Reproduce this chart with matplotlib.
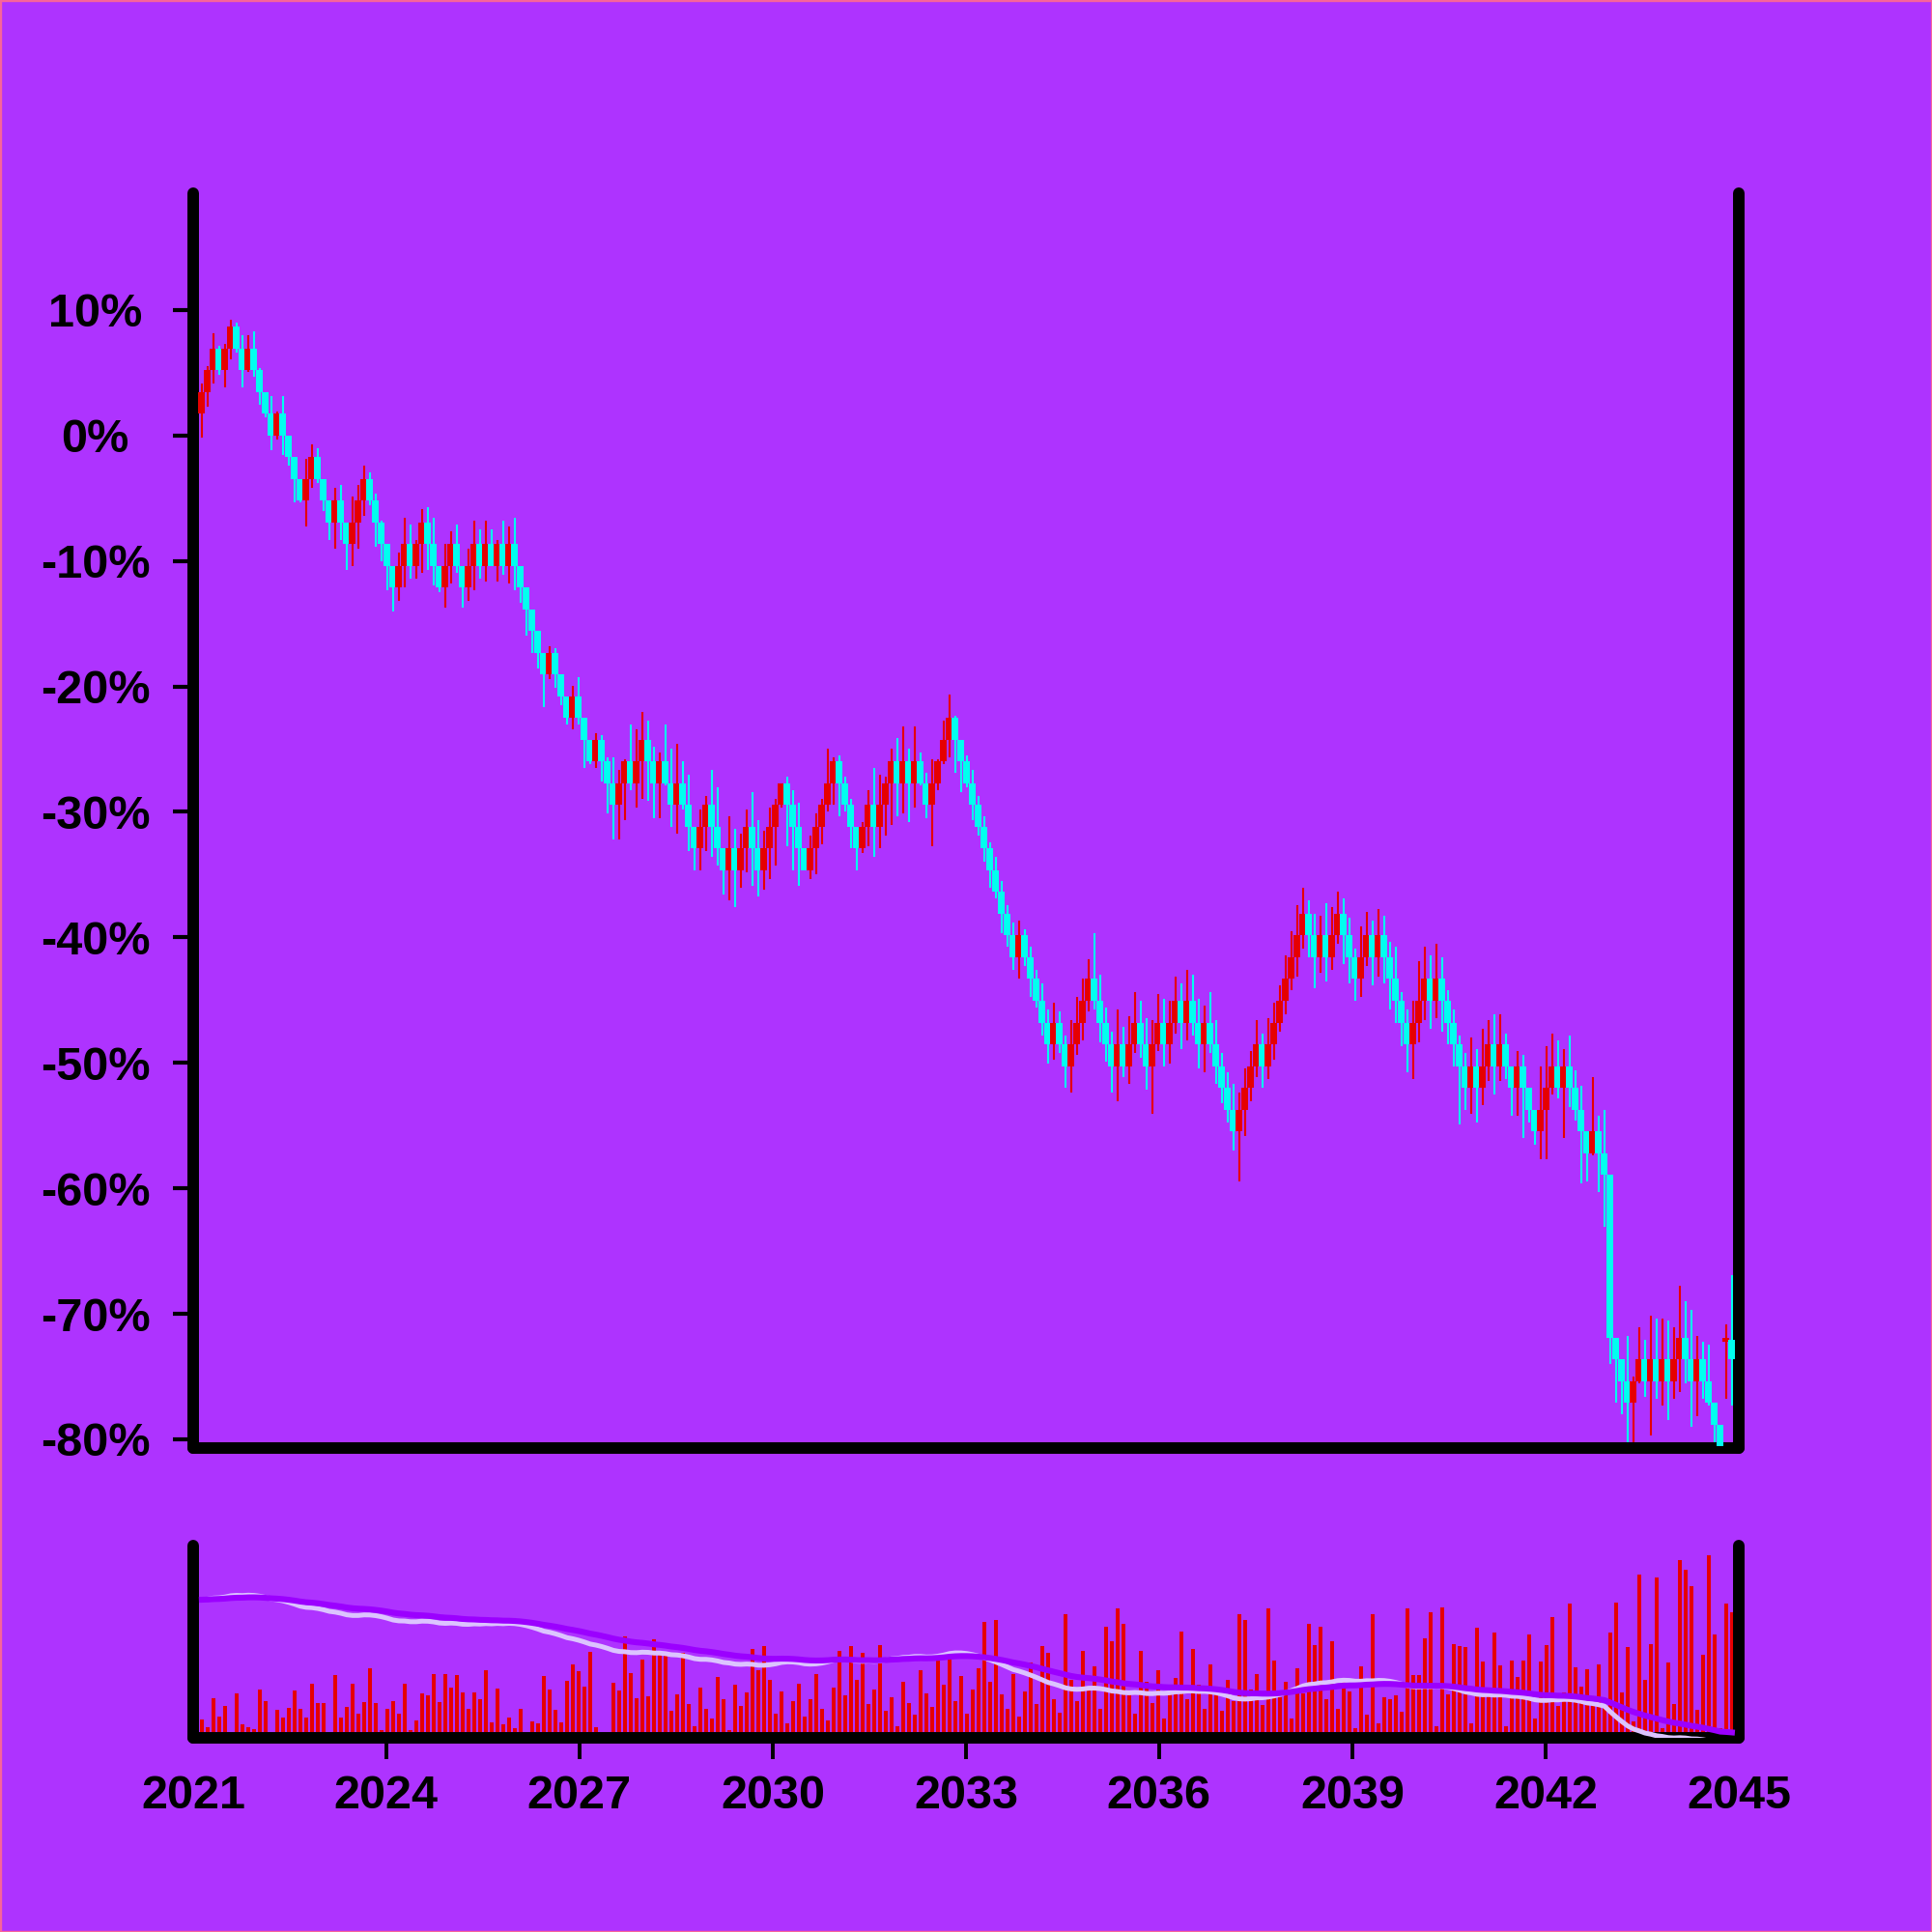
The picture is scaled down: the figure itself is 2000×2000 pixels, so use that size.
import matplotlib
matplotlib.use("Agg")
import matplotlib.dates as mdates
import matplotlib.pyplot as plt
import numpy as np
import pandas as pd
from matplotlib.patches import Rectangle
from matplotlib.ticker import FuncFormatter

BG = '#AE33FF'
UP = '#E60000'
DOWN = '#00FFEF'
TICK = 1.733  # one price step, in percent

# prices in price steps (1 step = TICK %)
first_open = 1
close_steps = [
    2, 3, 4, 3, 4, 5, 4, 3, 4, 3,
    2, 1, 0, 1, 0, -1, -2, -3, -2, -1,
    -2, -3, -4, -3, -4, -5, -4, -3, -2, -3,
    -4, -5, -6, -7, -6, -5, -6, -5, -4, -5,
    -6, -7, -6, -5, -6, -7, -6, -5, -6, -5,
    -6, -5, -6, -5, -6, -7, -8, -9, -10, -11,
    -10, -11, -12, -13, -12, -13, -14, -15, -14, -15,
    -16, -17, -16, -15, -16, -15, -14, -15, -16, -15,
    -16, -17, -16, -17, -18, -19, -18, -17, -18, -19,
    -20, -19, -20, -19, -18, -19, -20, -19, -18, -17,
    -16, -17, -18, -19, -20, -19, -18, -17, -16, -15,
    -16, -17, -18, -19, -18, -17, -18, -17, -16, -15,
    -16, -15, -16, -15, -16, -17, -16, -15, -14, -13,
    -14, -15, -16, -17, -18, -19, -20, -21, -22, -23,
    -24, -23, -24, -25, -26, -27, -28, -27, -28, -29,
    -28, -27, -26, -25, -26, -27, -28, -29, -28, -29,
    -28, -27, -28, -29, -28, -27, -28, -27, -26, -27,
    -26, -27, -28, -27, -28, -29, -30, -31, -32, -31,
    -30, -29, -28, -29, -28, -27, -26, -25, -24, -23,
    -22, -23, -24, -23, -24, -23, -22, -23, -24, -25,
    -24, -23, -24, -23, -24, -25, -26, -27, -28, -27,
    -26, -25, -26, -25, -26, -27, -28, -29, -30, -29,
    -30, -29, -28, -29, -28, -29, -30, -29, -30, -31,
    -32, -31, -30, -29, -30, -29, -30, -31, -32, -33,
    -32, -33, -34, -41.5, -42.5, -43.5, -44.5, -43.5, -42.5, -43.5,
    -42.5, -43.5, -42.5, -43.5, -42.5, -41.5, -42.5, -43.5, -42.5, -43.5,
    -44.5, -45.5, -46.5, -41.6, -42.5,
]
high_steps = [
    2.4, 3.2, 4.7, 4.1, 4.2, 5.3, 5.2, 4.6, 4.6, 4.8,
    3.1, 2.0, 1.8, 1.1, 1.8, 0.0, -1.0, -2.0, -1.1, -0.4,
    -0.6, -2.0, -3.0, -2.4, -2.3, -4.0, -2.8, -2.3, -1.4, -1.7,
    -2.7, -3.9, -5.0, -6.0, -5.4, -3.8, -4.1, -4.8, -3.4, -3.3,
    -3.8, -6.0, -5.0, -4.4, -4.1, -6.0, -5.2, -3.9, -4.3, -3.9,
    -4.3, -4.8, -3.9, -4.2, -3.8, -6.0, -7.0, -8.0, -9.0, -10.0,
    -9.7, -9.8, -11.0, -12.0, -11.5, -11.1, -13.0, -14.0, -13.7, -13.8,
    -14.8, -14.8, -15.4, -14.9, -13.3, -13.5, -12.7, -13.1, -14.3, -14.6,
    -13.3, -14.4, -14.2, -15.0, -15.6, -18.0, -17.2, -16.6, -15.4, -16.2,
    -19.0, -17.5, -18.1, -18.3, -17.2, -16.4, -17.7, -18.2, -17.1, -16.7,
    -16.0, -15.7, -16.3, -16.9, -19.0, -18.4, -17.4, -16.7, -14.4, -14.8,
    -14.7, -15.7, -16.7, -18.0, -17.8, -16.3, -15.3, -15.6, -15.7, -14.4,
    -13.9, -13.4, -14.4, -13.4, -14.6, -15.5, -14.9, -14.9, -13.1, -11.9,
    -12.9, -14.0, -14.7, -15.4, -16.6, -17.5, -18.7, -19.4, -20.5, -21.6,
    -22.4, -22.3, -22.7, -23.5, -24.6, -25.2, -26.4, -26.1, -26.5, -27.6,
    -26.9, -25.8, -25.0, -24.1, -22.9, -24.8, -26.3, -27.4, -26.4, -27.2,
    -26.7, -25.6, -26.0, -26.8, -26.9, -25.7, -25.9, -26.0, -24.9, -25.2,
    -24.6, -24.8, -25.9, -26.2, -25.6, -26.9, -28.4, -29.3, -29.8, -30.2,
    -29.1, -28.3, -26.9, -27.5, -26.8, -26.1, -25.3, -23.9, -22.8, -21.6,
    -20.8, -21.4, -22.0, -22.1, -21.5, -21.7, -21.0, -21.3, -22.2, -23.6,
    -22.6, -21.9, -22.3, -21.8, -22.1, -23.3, -23.5, -25.6, -26.4, -26.0,
    -24.2, -23.5, -23.9, -23.4, -24.0, -25.5, -26.4, -27.6, -28.4, -27.7,
    -28.2, -27.3, -26.9, -26.6, -26.6, -27.5, -29.0, -28.3, -28.5, -30.0,
    -31.0, -29.0, -28.1, -27.5, -27.8, -28.2, -27.6, -29.2, -29.9, -32.0,
    -29.5, -31.3, -31.0, -34.0, -41.5, -42.5, -41.4, -43.3, -41.0, -41.6,
    -40.5, -40.6, -40.6, -40.7, -41.0, -39.1, -39.8, -40.2, -41.4, -41.7,
    -41.8, -44.5, -45.5, -40.9, -38.6,
]
low_steps = [
    -0.1, 1.3, 2.4, 2.8, 2.2, 3.5, 3.8, 2.2, 2.9, 2.7,
    1.4, 0.85, -0.7, -0.2, -0.9, -1.4, -3.1, -3.1, -4.2, -2.4,
    -2.2, -3.5, -4.8, -5.2, -4.8, -6.2, -6.0, -5.2, -3.7, -3.2,
    -5.1, -5.8, -7.1, -8.1, -7.6, -7.0, -6.6, -6.6, -6.3, -6.2,
    -6.9, -7.2, -7.9, -6.8, -6.3, -7.9, -7.6, -7.1, -6.6, -6.7,
    -6.0, -6.7, -6.4, -6.8, -7.1, -7.7, -9.2, -10.0, -10.7, -12.5,
    -11.2, -11.6, -12.4, -13.3, -13.5, -13.3, -15.3, -15.1, -15.3, -15.9,
    -17.4, -18.6, -18.6, -17.7, -16.3, -17.1, -16.7, -16.8, -17.6, -17.6,
    -16.1, -18.0, -18.3, -17.2, -19.1, -20.0, -20.0, -19.1, -19.4, -19.8,
    -21.1, -21.4, -21.7, -20.8, -20.1, -20.7, -21.2, -20.9, -20.4, -19.8,
    -17.1, -18.9, -20.0, -20.7, -20.0, -20.4, -20.2, -18.8, -17.3, -17.0,
    -17.5, -17.3, -19.0, -20.0, -19.2, -18.9, -19.4, -19.0, -18.4, -17.9,
    -17.5, -17.4, -17.8, -17.1, -16.1, -17.6, -18.9, -16.3, -15.1, -14.8,
    -15.5, -16.4, -16.2, -17.7, -18.4, -19.6, -20.8, -21.3, -22.9, -23.5,
    -24.6, -25.0, -24.4, -25.8, -26.3, -27.6, -28.9, -28.7, -28.4, -30.0,
    -30.2, -28.5, -27.8, -26.5, -26.4, -27.9, -28.8, -30.2, -30.6, -29.5,
    -29.8, -28.4, -28.6, -30.1, -31.2, -28.3, -29.0, -28.9, -27.5, -28.2,
    -27.8, -27.6, -29.1, -29.3, -28.4, -29.8, -30.7, -31.6, -32.9, -34.3,
    -32.2, -30.6, -29.5, -30.0, -29.6, -28.7, -27.4, -26.6, -25.5, -24.9,
    -23.6, -24.0, -25.4, -24.7, -25.1, -24.6, -23.4, -24.3, -25.2, -26.0,
    -25.8, -24.4, -25.3, -24.9, -25.2, -26.4, -27.0, -28.1, -29.3, -29.6,
    -27.9, -26.9, -27.3, -26.8, -27.4, -28.0, -29.0, -31.7, -31.0, -31.2,
    -31.6, -30.8, -29.7, -30.3, -29.7, -29.6, -31.3, -31.3, -32.3, -31.6,
    -32.6, -33.3, -33.3, -30.3, -30.5, -32.3, -30.9, -31.5, -34.4, -34.3,
    -33.1, -34.8, -36.4, -42.7, -44.5, -45.0, -46.3, -46.3, -43.6, -44.2,
    -46.0, -44.3, -44.6, -45.3, -44.3, -44.0, -43.6, -45.6, -45.1, -44.3,
    -44.6, -46.6, -47.5, -44.3, -44.6,
]
# candles that do not open at the previous close
gap_opens = {263: -41.6}
volume = [
    19, 11, 41, 22, 33, 0, 46, 14, 11, 9,
    50, 38, 0, 29, 21, 31, 49, 30, 21, 56,
    36, 36, 0, 65, 21, 32, 56, 25, 37, 72,
    36, 8, 30, 38, 25, 56, 8, 18, 46, 44,
    66, 37, 66, 52, 65, 47, 30, 47, 40, 70,
    16, 51, 14, 21, 10, 30, 0, 17, 15, 64,
    50, 29, 16, 59, 76, 69, 53, 89, 11, 0,
    0, 57, 49, 105, 67, 41, 81, 43, 102, 86,
    86, 28, 45, 88, 35, 12, 52, 30, 20, 63,
    40, 8, 55, 33, 47, 92, 70, 95, 60, 25,
    48, 15, 38, 56, 22, 40, 66, 30, 18, 52,
    90, 44, 95, 60, 88, 35, 50, 96, 28, 42,
    12, 58, 36, 24, 70, 46, 32, 80, 55, 88,
    38, 64, 25, 50, 72, 120, 58, 122, 45, 30,
    66, 22, 48, 78, 35, 95, 88, 40, 26, 128,
    60, 38, 90, 52, 74, 30, 115, 100, 134, 118,
    44, 25, 90, 58, 36, 70, 20, 48, 62, 110,
    40, 92, 55, 30, 76, 45, 28, 60, 38, 128,
    122, 50, 66, 34, 134, 80, 42, 58, 20, 72,
    46, 118, 96, 115, 40, 100, 30, 62, 48, 10,
    74, 24, 128, 15, 42, 40, 44, 27, 134, 65,
    65, 103, 130, 12, 135, 45, 97, 95, 94, 15,
    114, 79, 45, 109, 75, 12, 80, 63, 80, 107,
    20, 79, 96, 125, 33, 47, 139, 73, 53, 71,
    35, 76, 34, 109, 140, 47, 94, 17, 169, 60,
    97, 166, 10, 78, 35, 184, 174, 157, 29, 86,
    189, 107, 10, 139, 130,
]
year_ticks = [2021, 2024, 2027, 2030, 2033, 2036, 2039, 2042, 2045]
start_date, end_date = '2021-02-19', '2044-11-23'

plt.rcParams['font.family'] = ['Liberation Sans', 'DejaVu Sans']
plt.rcParams['font.weight'] = 'bold'


def style_spines(a):
    a.spines['top'].set_visible(False)
    for side in ('left', 'right', 'bottom'):
        a.spines[side].set_linewidth(4.3)
        a.spines[side].set_color('black')
        a.spines[side].set_capstyle('round')


dates = pd.date_range(start_date, end_date, periods=len(close_steps))
x = mdates.date2num(dates.to_pydatetime())
step = x[1] - x[0]
xmin = mdates.date2num(pd.Timestamp(f'{year_ticks[0]}-01-01'))
xmax = mdates.date2num(pd.Timestamp(f'{year_ticks[-1]}-01-01'))

close = np.array(close_steps, dtype=float) * TICK
opens = np.array([first_open] + close_steps[:-1], dtype=float)
for i, v in gap_opens.items():
    opens[i] = v
opens = opens * TICK
high = np.array(high_steps) * TICK
low = np.array(low_steps) * TICK

colors = np.where(close >= opens, UP, DOWN)
body_h = np.abs(close - opens)
body_low = np.minimum(opens, close)
doji = body_h < 0.05
body_low = np.where(doji, close - 0.15, body_low)
body_h = np.where(doji, 0.3, body_h)

fig = plt.figure(figsize=(10, 10), dpi=200, facecolor=BG)
ax = fig.add_axes([0.1, 0.2505, 0.8, 0.6495], facecolor=BG)
ax_vol = fig.add_axes([0.1, 0.1005, 0.8, 0.0995], facecolor=BG)

ax.vlines(x, low, high, colors=colors, linewidth=0.75, zorder=2)
ax.bar(x, body_h, bottom=body_low, width=step * 1.15, color=colors,
       linewidth=0, zorder=3)
ax.set_xlim(xmin, xmax)
ax.set_ylim(-80.7, 19.3)
ax.set_yticks(range(-80, 11, 10))
ax.yaxis.set_major_formatter(FuncFormatter(lambda v, _: f'{v:.0f}%'))
ax.tick_params(axis='y', length=7.5, width=1.5, pad=29, labelsize=17.5)
ax.tick_params(axis='x', bottom=False, labelbottom=False)
for lab in ax.get_yticklabels():
    lab.set_horizontalalignment('center')
style_spines(ax)

ax_vol.bar(x, volume, width=step * 0.7, color=UP, linewidth=0, zorder=2)
ax_vol.set_xlim(xmin, xmax)
ax_vol.set_ylim(0, 199)
ax_vol.set_yticks([])
ax_vol.set_xticks([mdates.date2num(pd.Timestamp(f'{y}-01-01')) for y in year_ticks])
ax_vol.set_xticklabels([str(y) for y in year_ticks])
ax_vol.tick_params(axis='x', length=8, width=1.4, pad=5.5, labelsize=17.5)
xt = ax_vol.xaxis.get_major_ticks()
xt[0].tick1line.set_visible(False)
xt[-1].tick1line.set_visible(False)
style_spines(ax_vol)

# moving averages of the price, drawn over the volume bars
ma_fast = pd.Series(close).ewm(span=10, adjust=False).mean()
ma_slow = pd.Series(close).ewm(span=30, adjust=False).mean()
ax_ma = ax_vol.twinx()
ax_ma.plot(x, ma_fast, color='#DCC4FF', linewidth=1.8)
ax_ma.plot(x, ma_slow, color='#9B00FF', linewidth=2.2)
ax_ma.set_ylim(-72.7, 33.3)
ax_ma.set_xlim(xmin, xmax)
ax_ma.axis('off')

fig.add_artist(Rectangle((0, 0), 1, 1, transform=fig.transFigure, fill=False,
                         edgecolor='#F8649A', linewidth=1.2))

fig.savefig('out.png', dpi=200, facecolor=BG)
